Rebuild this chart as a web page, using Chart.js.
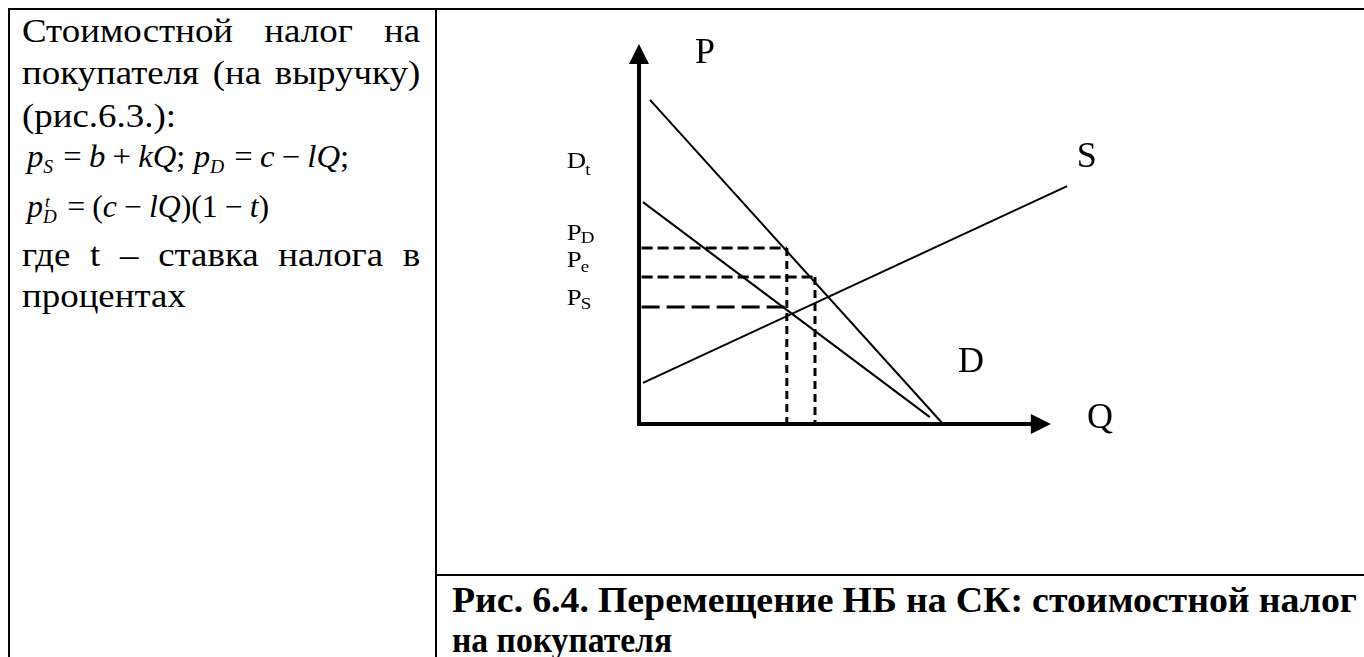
<!DOCTYPE html>
<html>
<head>
<meta charset="utf-8">
<script src="https://cdn.jsdelivr.net/npm/chart.js@4.4.1/dist/chart.umd.min.js"></script>
<style>
body { margin: 0; width: 1364px; height: 657px; overflow: hidden; background: #fff;
       font-family: "Liberation Serif", "Times New Roman", serif; color: #000; }
.rule { position: absolute; background: #000; }
.line { position: absolute; left: 22px; font-size: 34px; line-height: 34px; white-space: nowrap;
        transform-origin: 0 0; transform: scaleX(1.085); }
.just { display: flex; justify-content: space-between; width: 367px; }
.f { position: absolute; left: 27px; font-size: 31px; line-height: 31px; white-space: nowrap; transform-origin: 0 0; }
.f i { font-style: italic; }
.f .op { margin: 0 0.22em; }
.f sub { font-size: 0.6em; font-style: italic; vertical-align: -0.3em; line-height: 0; margin-right: 0.15em; }
.stack { display: inline-block; position: relative; width: 0.55em; height: 1em; vertical-align: top; }
.stack .sup { position: absolute; left: 0.12em; top: -0.28em; font-size: 0.55em; font-style: italic; }
.stack .sb { position: absolute; left: 0; top: 0.52em; font-size: 0.6em; font-style: italic; }
.cap { position: absolute; left: 452px; font-size: 35px; line-height: 35px; font-weight: bold; white-space: nowrap;
       transform-origin: 0 0; transform: scaleX(0.96); }
.cap.just { display: flex; justify-content: space-between; width: 838px; transform: scaleX(1.08); }
#chart { position: absolute; left: 0; top: 0; }
</style>
</head>
<body>
<div class="rule" style="left:8px;top:8px;width:1356px;height:2px"></div>
<div class="rule" style="left:8px;top:8px;width:2px;height:649px"></div>
<div class="rule" style="left:435px;top:8px;width:2px;height:649px"></div>
<div class="rule" style="left:435px;top:574px;width:929px;height:2px"></div>

<div class="line just" style="top:14px"><span>Стоимостной</span><span>налог</span><span>на</span></div>
<div class="line just" style="top:56px"><span>покупателя</span><span>(на</span><span>выручку)</span></div>
<div class="line" style="top:99px">(рис.6.3.):</div>
<div class="f" data-fit="322" style="top:141px"><i>p</i><sub>S</sub><span class="op">=</span><i>b</i><span class="op">+</span><i>kQ</i>; <i>p</i><sub>D</sub><span class="op">=</span><i>c</i><span class="op">−</span><i>lQ</i>;</div>
<div class="f" data-fit="242" style="top:191px"><i>p</i><span class="stack"><span class="sup">t</span><span class="sb">D</span></span><span class="op">=</span>(<i>c</i><span class="op">−</span><i>lQ</i>)(1<span class="op">−</span><i>t</i>)</div>
<div class="line just" style="top:238px"><span>где</span><span>t</span><span>–</span><span>ставка</span><span>налога</span><span>в</span></div>
<div class="line" style="top:279px">процентах</div>

<div class="cap just" style="top:583px"><span>Рис.</span><span>6.4.</span><span>Перемещение</span><span>НБ</span><span>на</span><span>СК:</span><span>стоимостной</span><span>налог</span></div>
<div class="cap" style="top:623px">на покупателя</div>

<canvas id="chart" width="1364" height="657"></canvas>

<script>
// Q and P values (axes run 0..10)
const demandTaxQ = [0.25, 6.91];
const demandTaxP = [8.53, 0.0];
const demandQ = [0.09, 6.61];
const demandP = [5.84, 0.18];
const supplyQ = [0.09, 9.73];
const supplyP = [1.08, 6.26];

// price levels P_D, P_e, P_S and the quantity where each dashed line stops
const levelP = [4.63, 3.87, 3.08];
const levelQ = [3.36, 4.0, 3.36];

// squeeze the formulas to the widths they have in the scan
document.querySelectorAll('[data-fit]').forEach(el => {
    el.style.transform = 'scaleX(' + (+el.dataset.fit / el.offsetWidth) + ')';
});

function pts(qs, ps) {
    return qs.map((q, i) => ({ x: q, y: ps[i] }));
}

function solid(qs, ps) {
    return { data: pts(qs, ps), showLine: true, borderColor: '#000', borderWidth: 2,
             pointRadius: 0, fill: false, clip: false };
}

function dashed(qs, ps, dash) {
    return { data: pts(qs, ps), showLine: true, borderColor: '#000', borderWidth: 3,
             borderDash: dash, pointRadius: 0, fill: false, clip: false };
}

const datasets = [
    solid(demandTaxQ, demandTaxP),
    solid(demandQ, demandP),
    solid(supplyQ, supplyP),
    dashed([0.06, levelQ[0]], [levelP[0], levelP[0]], [11, 5]),
    dashed([0.06, levelQ[1]], [levelP[1], levelP[1]], [11, 5]),
    dashed([0.06, levelQ[2]], [levelP[2], levelP[2]], [18, 7]),
    dashed([levelQ[0], levelQ[0]], [levelP[0], 0], [8, 5]),
    dashed([levelQ[1], levelQ[1]], [levelP[1], 0], [8, 5])
];

// axes with arrow heads and the letter labels
const axesPlugin = {
    id: 'axes',
    afterDatasetsDraw(chart) {
        const c = chart.ctx;
        const xs = chart.scales.x, ys = chart.scales.y;
        const x0 = xs.getPixelForValue(0), y0 = ys.getPixelForValue(0);
        const yTip = ys.getPixelForValue(10), xTip = xs.getPixelForValue(9.36);
        c.save();
        c.strokeStyle = '#000';
        c.fillStyle = '#000';
        c.lineWidth = 4;
        c.beginPath();
        c.moveTo(x0, y0 + 2);
        c.lineTo(x0, yTip + 15);
        c.moveTo(x0 - 2, y0);
        c.lineTo(xTip - 15, y0);
        c.stroke();
        c.beginPath();
        c.moveTo(x0, yTip);
        c.lineTo(x0 - 10, yTip + 20);
        c.lineTo(x0 + 10, yTip + 20);
        c.closePath();
        c.fill();
        c.beginPath();
        c.moveTo(xTip, y0);
        c.lineTo(xTip - 20, y0 - 10);
        c.lineTo(xTip - 20, y0 + 10);
        c.closePath();
        c.fill();

        c.textBaseline = 'alphabetic';
        const big = (t, q, p) => {
            c.font = '36px "Liberation Serif"';
            c.fillText(t, xs.getPixelForValue(q), ys.getPixelForValue(p));
        };
        big('P', 1.27, 9.5);
        big('S', 9.95, 6.76);
        big('D', 7.25, 1.37);
        big('Q', 10.18, -0.1);

        const small = (main, sub, q, p, drop) => {
            c.save();
            c.translate(xs.getPixelForValue(q), ys.getPixelForValue(p));
            c.scale(1.12, 1);
            c.font = '24px "Liberation Serif"';
            c.fillText(main, 0, 0);
            const w = c.measureText(main).width;
            c.font = '17px "Liberation Serif"';
            c.fillText(sub, w - 1, drop);
            c.restore();
        };
        small('D', 't', -1.64, 6.74, 7);
        small('P', 'D', -1.64, 4.84, 3);
        small('P', 'e', -1.64, 4.13, 5);
        small('P', 'S', -1.64, 3.13, 4);
        c.restore();
    }
};

new Chart(document.getElementById('chart'), {
    type: 'scatter',
    data: { datasets: datasets },
    options: {
        responsive: false,
        animation: false,
        devicePixelRatio: 1,
        layout: { padding: { left: 639, right: 285, top: 44, bottom: 233 } },
        scales: {
            x: { type: 'linear', min: 0, max: 10, display: false },
            y: { type: 'linear', min: 0, max: 10, display: false }
        },
        plugins: { legend: { display: false }, tooltip: { enabled: false } }
    },
    plugins: [axesPlugin]
});
</script>
</body>
</html>
